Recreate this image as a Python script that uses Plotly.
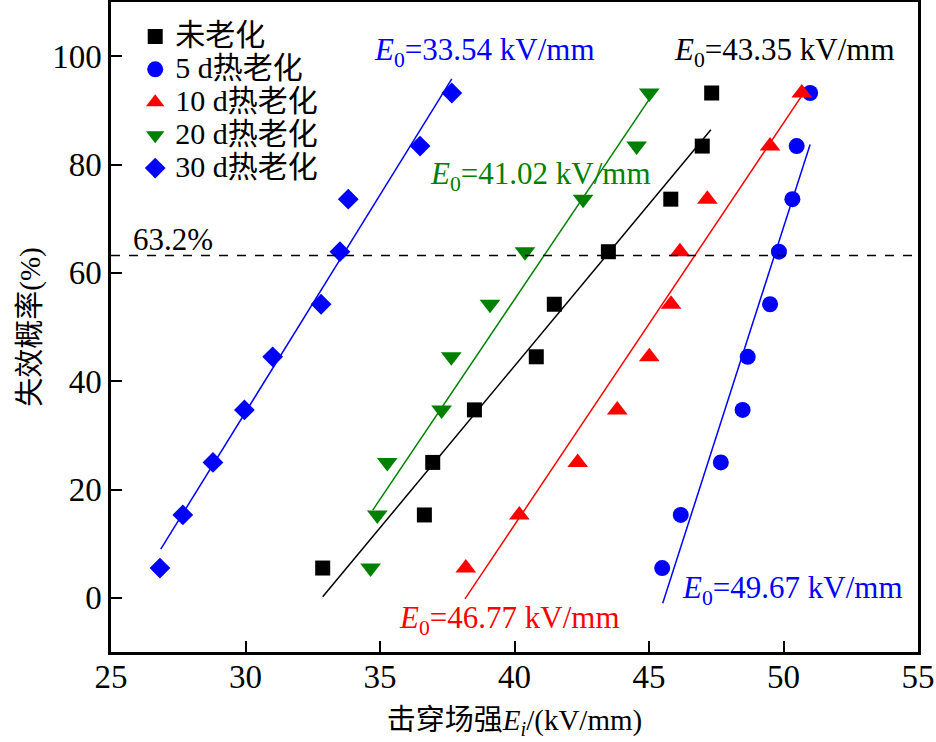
import plotly.graph_objects as go

# Failure probability (%) for 10 specimens
prob = [5.5, 15.3, 25.0, 34.7, 44.5, 54.2, 63.9, 73.6, 83.4, 93.2]

# Breakdown field strengths (kV/mm)
E_unaged = [32.87, 36.65, 36.96, 38.51, 40.81, 41.48, 43.49, 45.81, 46.98, 47.33]
E_5d = [45.49, 46.18, 47.67, 48.48, 48.67, 49.50, 49.83, 50.33, 50.49, 50.99]
E_10d = [38.19, 40.18, 42.35, 43.82, 45.01, 45.82, 46.15, 47.17, 49.50, 50.68]
E_20d = [34.65, 34.90, 35.27, 37.29, 37.65, 39.09, 40.39, 42.55, 44.54, 45.01]
E_30d = [26.82, 27.67, 28.79, 29.96, 31.01, 32.81, 33.51, 33.82, 36.49, 37.67]

# Fit line endpoints
fit_unaged_x, fit_unaged_y = [32.87, 47.30], [0.2, 86.4]
fit_5d_x, fit_5d_y = [45.51, 50.99], [-1.0, 83.7]
fit_10d_x, fit_10d_y = [38.16, 50.72], [-0.2, 93.0]
fit_20d_x, fit_20d_y = [34.73, 45.22], [16.2, 93.6]
fit_30d_x, fit_30d_y = [26.85, 37.67], [9.0, 95.8]

labels = ["未老化", "5 d热老化", "10 d热老化", "20 d热老化", "30 d热老化"]
E0_texts = ["43.35", "49.67", "46.77", "41.02", "33.54"]
threshold = 63.2

FONT = "Liberation Serif, Times New Roman, Noto Sans CJK SC, serif"

series = [
    (labels[0], E_unaged, fit_unaged_x, fit_unaged_y, "#000000", "square", 15),
    (labels[1], E_5d, fit_5d_x, fit_5d_y, "#0000FF", "circle", 16),
    (labels[2], E_10d, fit_10d_x, fit_10d_y, "#FF0000", "triangle-up", 18),
    (labels[3], E_20d, fit_20d_x, fit_20d_y, "#008000", "triangle-down", 18),
    (labels[4], E_30d, fit_30d_x, fit_30d_y, "#0000FF", "diamond", 16),
]

fig = go.Figure()

for name, ex, fx, fy, col, sym, sz in series:
    fig.add_trace(go.Scatter(x=fx, y=fy, mode="lines", line=dict(color=col, width=1.5),
                             showlegend=False, hoverinfo="skip"))

for name, ex, fx, fy, col, sym, sz in series:
    fig.add_trace(go.Scatter(x=ex, y=prob, mode="markers",
                             name='<span style="font-size:30px">' + name + '</span>',
                             marker=dict(symbol=sym, size=sz, color=col, line=dict(width=0))))

# 63.2% dashed line
fig.add_shape(type="line", xref="paper", x0=0, x1=1, yref="y", y0=threshold, y1=threshold,
              line=dict(color="black", width=1.5, dash="dash"))

def e0(v):
    return "<i>E</i><sub>0</sub>=" + v + " kV/mm"

annos = [
    (E0_texts[4], 38.88, 100.7, "#0000FF"),
    (E0_texts[0], 50.02, 100.7, "#000000"),
    (E0_texts[3], 40.95, 77.8, "#008000"),
    (E0_texts[2], 39.83, -4.0, "#FF0000"),
    (E0_texts[1], 50.32, 1.5, "#0000FF"),
]
for v, x, y, col in annos:
    fig.add_annotation(x=x, y=y, text=e0(v), showarrow=False,
                       font=dict(family=FONT, size=31, color=col))

fig.add_annotation(x=27.3, y=66.2, text="63.2%", showarrow=False,
                   font=dict(family=FONT, size=31, color="black"))

fig.update_layout(
    width=936, height=742, autosize=False,
    margin=dict(l=111, r=18, t=2, b=90),
    paper_bgcolor="white", plot_bgcolor="white",
    font=dict(family=FONT, size=30, color="black"),
    legend=dict(x=0.03, y=0.98, xanchor="left", yanchor="top",
                bgcolor="rgba(0,0,0,0)", font=dict(family=FONT, size=23),
                tracegroupgap=0, itemwidth=30),
    xaxis=dict(range=[25, 55], tickvals=[25, 30, 35, 40, 45, 50, 55],
               automargin=False, ticklabelstandoff=-6,
               showgrid=False, zeroline=False, showline=True, linecolor="black",
               linewidth=2.5, mirror=True, ticks="inside", ticklen=11, tickwidth=2,
               tickcolor="black", tickfont=dict(family=FONT, size=33),
               title=dict(text="击穿场强<i>E</i><sub><i>i</i></sub>/(kV/mm)",
                          font=dict(family=FONT, size=29), standoff=16)),
    yaxis=dict(range=[-10, 110], tickvals=[0, 20, 40, 60, 80, 100],
               automargin=False,
               showgrid=False, zeroline=False, showline=True, linecolor="black",
               linewidth=2.5, mirror=True, ticks="inside", ticklen=11, tickwidth=2,
               tickcolor="black", tickfont=dict(family=FONT, size=33),
               title=dict(text="失效概率(%)", font=dict(family=FONT, size=29), standoff=4)),
)

fig.write_html("out.html", config={"displayModeBar": False},
               post_script="document.body.style.margin='0px';document.body.style.overflow='hidden';")
